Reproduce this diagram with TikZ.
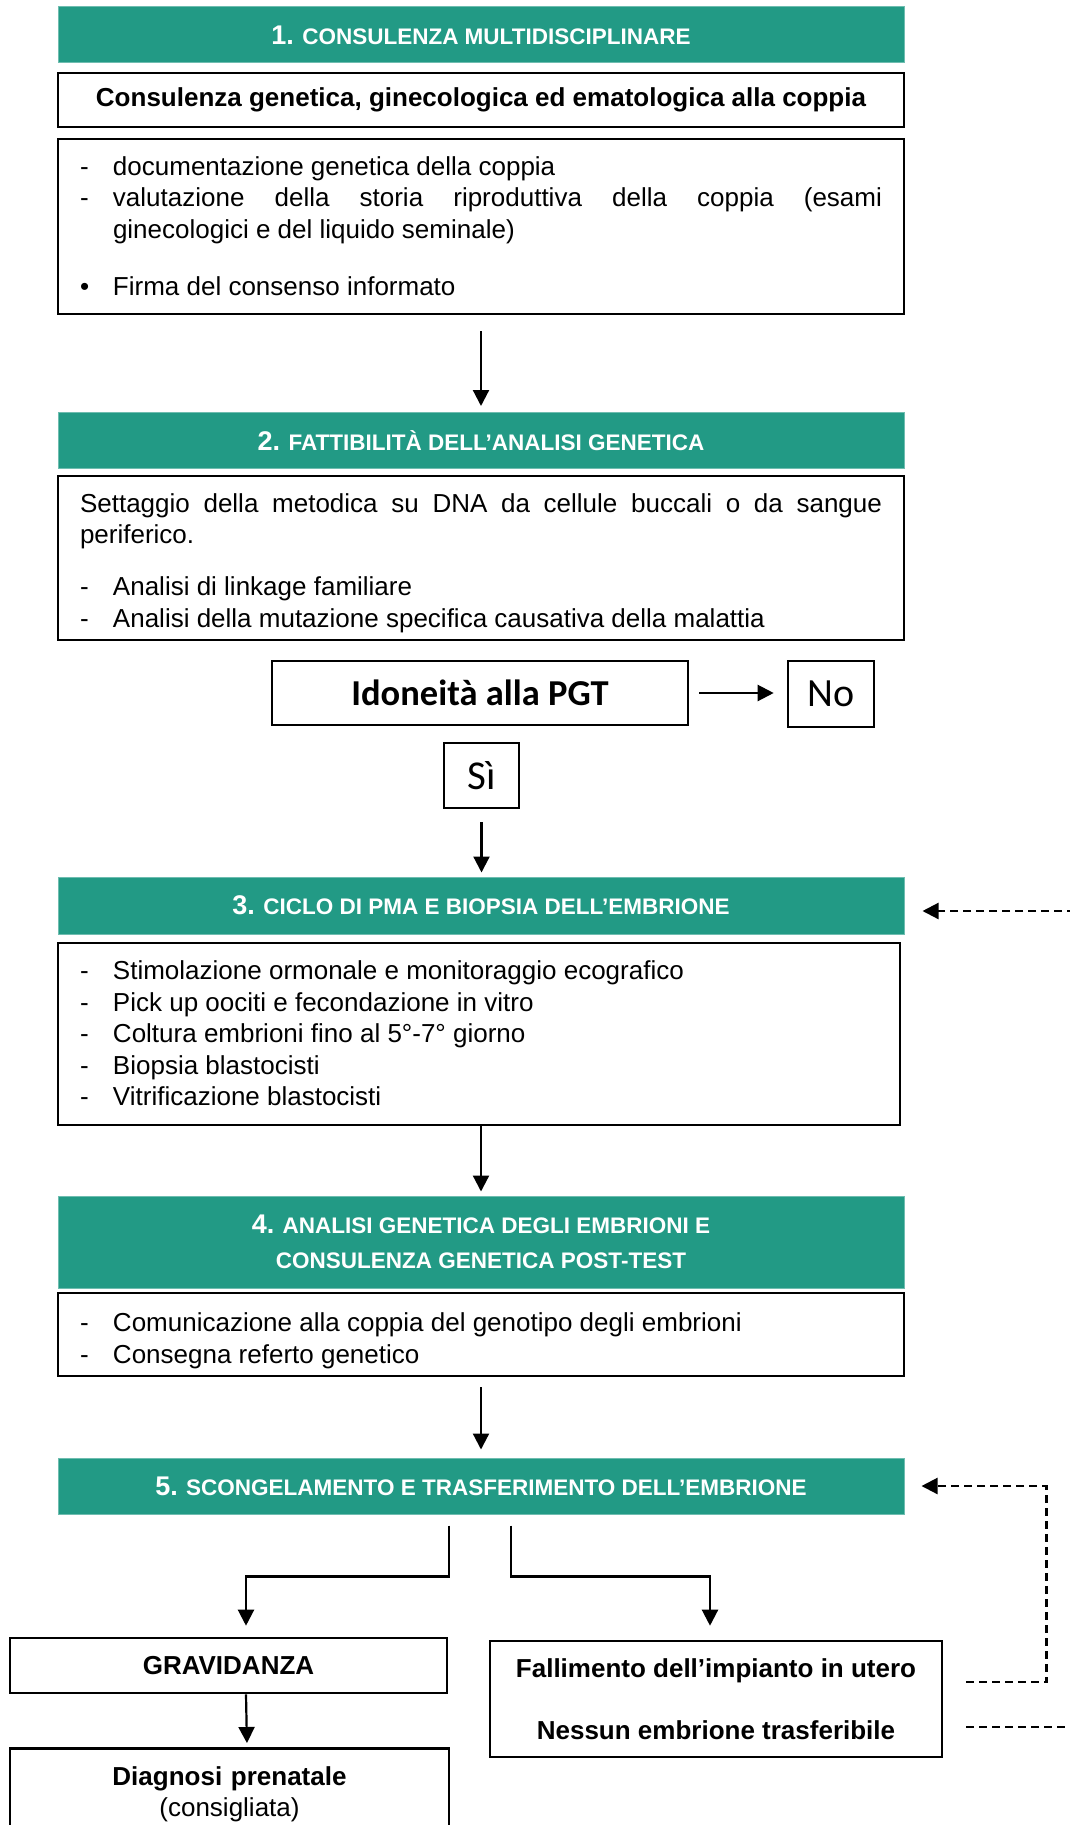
\documentclass[tikz,border=0pt]{standalone}
\usepackage{fontspec}
\setmainfont{Liberation Sans}
\newfontfamily\calibri{Carlito}
\usetikzlibrary{arrows.meta}
\definecolor{verdefase}{RGB}{34,154,133}
\newcommand{\num}[1]{{\fontsize{27}{35}\selectfont #1}}
\newcommand{\voce}[2]{\par\noindent\hangindent=33pt\hangafter=1\makebox[33pt][l]{#1}#2\par}

\begin{document}
\begin{tikzpicture}[x=1pt,y=-1pt,
		fase/.style={fill=verdefase,draw=verdefase!65!white,line width=1pt,text=white,font=\bfseries\fontsize{22.5}{35}\selectfont,minimum width=846pt,minimum height=56pt,inner sep=0pt,align=center},
		casella/.style={draw,line width=2.6pt,font=\fontsize{26}{31.5}\selectfont,inner sep=0pt},
		elenco/.style={casella,text width=802pt,inner xsep=22pt,align=justify},
		freccia/.style={-{Triangle[length=16pt,width=16pt]},line width=2.2pt},
		tratteggio/.style={freccia,dash pattern=on 8pt off 5pt}]
			\useasboundingbox (0,0) rectangle (1069,1825);
			\node[fase] (fase1) at (481,35) {\num{1.} CONSULENZA MULTIDISCIPLINARE};
			\node[casella,minimum width=846pt,minimum height=54pt,font=\bfseries\fontsize{26}{31.5}\selectfont] (consulenza) at (481,100) {Consulenza genetica, ginecologica ed ematologica alla coppia};
			\node[elenco,minimum height=175pt] (elenco1) at (481,226.5) {%
				\voce{-}{documentazione genetica della coppia}%
				\voce{-}{valutazione della storia riproduttiva della coppia (esami\linebreak ginecologici e del liquido seminale)}%
				\vspace{25.5pt}%
				\voce{•}{Firma del consenso informato\rule[-14pt]{0pt}{14pt}}};
			
			\node[fase] (fase2) at (481,440.5) {\num{2.} FATTIBILITÀ DELL’ANALISI GENETICA};
			\node[elenco,minimum height=164pt] (elenco2) at (481,558) {%
				\noindent\rule{0pt}{29pt}Settaggio della metodica su DNA da cellule buccali o da sangue\linebreak periferico.\par
				\vspace{20.5pt}%
				\voce{-}{Analisi di linkage familiare}%
				\voce{-}{Analisi della mutazione specifica causativa della malattia}};
			
			\node[casella,minimum width=416pt,minimum height=64pt,font=\calibri\bfseries\fontsize{36.5}{40}\selectfont] (idoneita) at (480,693) {Idoneità alla PGT};
			\node[casella,minimum width=86pt,minimum height=66pt,font=\calibri\fontsize{40}{44}\selectfont] (no) at (831,694) {No};
			\node[casella,minimum width=75pt,minimum height=65pt,font=\calibri\fontsize{41}{44}\selectfont] (si) at (481.5,775.5) {Sì};
			
			\node[fase,minimum height=57pt] (fase3) at (481,905.5) {\num{3.} CICLO DI PMA E BIOPSIA DELL’EMBRIONE};
			\node[elenco,text width=798pt,minimum height=182pt] (elenco3) at (479,1034) {%
				\voce{-}{Stimolazione ormonale e monitoraggio ecografico}%
				\voce{-}{Pick up oociti e fecondazione in vitro}%
				\voce{-}{Coltura embrioni fino al 5°-7° giorno}%
				\voce{-}{Biopsia blastocisti}%
				\voce{-}{Vitrificazione blastocisti\rule[-14pt]{0pt}{14pt}}};
			
			\node[fase,minimum height=92pt] (fase4) at (481,1242) {\num{4.} ANALISI GENETICA DEGLI EMBRIONI E\\CONSULENZA GENETICA POST-TEST};
			\node[elenco,minimum height=83pt] (elenco4) at (481,1334.5) {%
				\voce{-}{Comunicazione alla coppia del genotipo degli embrioni}%
				\voce{-}{Consegna referto genetico}};
			
			\node[fase] (fase5) at (481,1486) {\num{5.} SCONGELAMENTO E TRASFERIMENTO DELL’EMBRIONE};
			\node[casella,minimum width=437pt,minimum height=55pt,font=\bfseries\fontsize{26}{31.5}\selectfont] (grav) at (228.5,1665.5) {GRAVIDANZA};
			\node[casella,anchor=north,text width=439pt,align=center,inner ysep=18pt,text depth=80pt] (diagnosi) at (229.5,1747) {{\bfseries Diagnosi prenatale}\\(consigliata)};
			\node[casella,minimum width=452pt,minimum height=116pt,align=center,font=\bfseries\fontsize{26}{31.5}\selectfont] (fallimento) at (716,1699) {Fallimento dell’impianto in utero\\[30.5pt]Nessun embrione trasferibile};
			
			\coordinate (ritorno3) at (1075,911);
			\coordinate (fall1) at (966,1682);
			\coordinate (fall2) at (966,1727);
			\coordinate (uscita2) at (1075,1727);
			
			\draw[freccia,shorten <=16pt,shorten >=6pt] (elenco1.south) -- (fase2.north);
			\draw[freccia,shorten <=10pt,shorten >=13pt] (idoneita.east) -- (idoneita.east -| no.west);
			\draw[freccia,shorten <=13pt,shorten >=4pt] (si.south) -- (si.south |- fase3.north);
			\draw[freccia,shorten >=4pt] (elenco3.south -| fase3.south) -- (fase4.north);
			\draw[freccia,shorten <=10pt,shorten >=8pt] (elenco4.south) -- (fase5.north);
			\draw[freccia,shorten <=11pt,shorten >=11pt] ([xshift=-32pt]fase5.south) -- ++(0,62) -| ([xshift=17.5pt]grav.north);
			\draw[freccia,shorten <=11pt,shorten >=14pt] ([xshift=30pt]fase5.south) -- ++(0,62) -| ([xshift=-6pt]fallimento.north);
			\draw[freccia,shorten >=4pt] ([xshift=17.5pt]grav.south) -- ([xshift=17.5pt]diagnosi.north);
			
			\draw[tratteggio,shorten >=18pt] (ritorno3) -- ([yshift=-5.5pt]fase3.east);
			\draw[tratteggio,shorten >=17pt] (fall1) -| ([xshift=142pt]fase5.east) -- (fase5.east);
			\draw[tratteggio,-] (fall2) -- (uscita2);
\end{tikzpicture}
\end{document}
